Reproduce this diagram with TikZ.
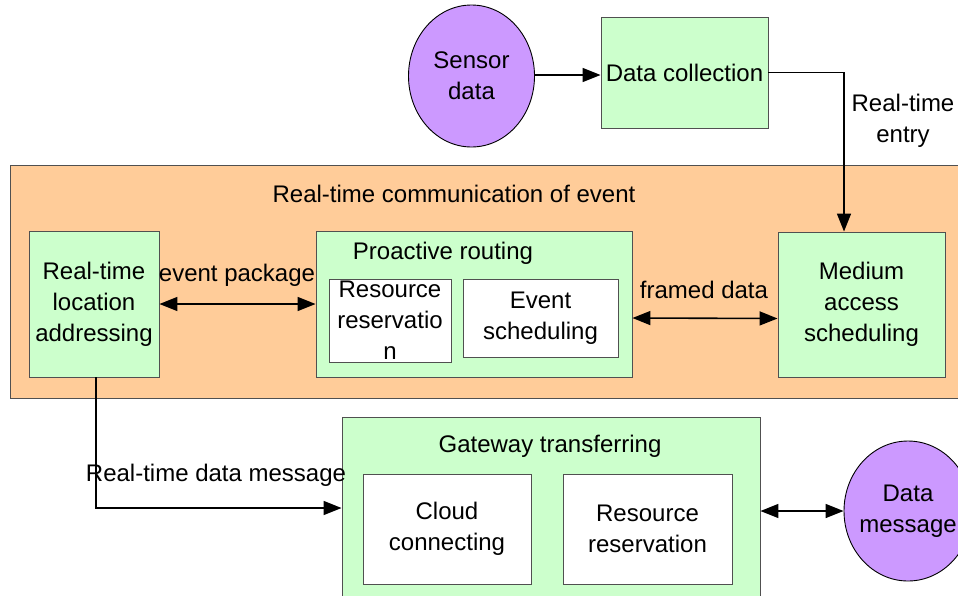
\documentclass[tikz,border=0pt]{standalone}
\usepackage{fontspec}
\setmainfont{Liberation Sans}
\usetikzlibrary{shapes.geometric,arrows.meta,calc}
\definecolor{boxgreen}{HTML}{CCFFCC}
\definecolor{boxorange}{HTML}{FFCC99}
\definecolor{boxpurple}{HTML}{CC99FF}
\definecolor{edgegray}{HTML}{505050}
\begin{document}
\begin{tikzpicture}[x=1pt,y=-1pt,
  every node/.style={font=\fontsize{24}{31}\selectfont, inner sep=0pt, align=center},
  gbox/.style={draw=edgegray, fill=boxgreen, line width=0.9pt},
  wbox/.style={draw=edgegray, fill=white, line width=0.9pt},
  obox/.style={draw=edgegray, fill=boxorange, line width=0.9pt},
  pell/.style={ellipse, draw=black, fill=boxpurple, line width=0.9pt},
  conn/.style={line width=1.6pt, -{Triangle[length=18pt,width=14pt]}},
  dconn/.style={line width=1.6pt, {Triangle[length=18pt,width=14pt]}-{Triangle[length=18pt,width=14pt]}},
  lbl/.style={font=\fontsize{24}{31}\selectfont}]
\useasboundingbox (0,0) rectangle (958,595);
\fill[white] (0,0) rectangle (958,595);
\clip (0,0) rectangle (958,595);

% top row
\node[pell, minimum width=126pt, minimum height=142pt] (sensor) at (471.5,76) {Sensor\\data};
\node[gbox, minimum width=167pt, minimum height=111pt] (dc) at (684.5,72.5) {Data collection};
\node[lbl] (rtentry) at (903,121) {Real-time\\entry};

% orange band
\node[obox, minimum width=975pt, minimum height=233pt] (band) at (497.5,281.5) {};
\node[lbl] (bandtitle) at (454,194) {Real-time communication of event};

\node[gbox, minimum width=130pt, minimum height=146pt] (rtl) at (94,304) {Real-time\\location\\addressing};
\node[gbox, minimum width=316pt, minimum height=146pt] (pr) at (474,304) {};
\node[lbl] (prtitle) at (443,253) {Proactive routing};
\node[wbox, minimum width=122pt, minimum height=83pt] (rr1) at (390,320.5) {Resource\\reservatio\\n};
\node[wbox, minimum width=155pt, minimum height=78pt] (es) at (540.5,318) {Event\\scheduling};
\node[gbox, minimum width=167pt, minimum height=145pt] (mac) at (861.5,304.5) {Medium\\access\\scheduling};

\node[lbl] (evpk) at (237,275) {event package};
\node[lbl] (frd) at (704,290) {framed data};

% gateway
\node[gbox, minimum width=418pt, minimum height=182pt] (gw) at (551,508) {};
\node[lbl] (gwtitle) at (550,446) {Gateway transferring};
\node[wbox, minimum width=168pt, minimum height=110pt] (cc) at (447,529) {Cloud\\connecting};
\node[wbox, minimum width=169pt, minimum height=110pt] (rr2) at (647.5,529) {Resource\\reservation};
\node[pell, inner xsep=-16pt, minimum width=128pt, minimum height=140pt] (dm) at (908,511) {Data\\message};
\node[lbl] (rtdm) at (216,475) {Real-time data message};

% connectors
\draw[conn] (sensor.east |- 0,75) -- (dc.west |- 0,75);
\draw[conn] (dc.east) -| ([xshift=-17.5pt]mac.north);
\draw[dconn] (rtl.east) -- (pr.west);
\draw[dconn] ([yshift=-14pt]pr.east) -- ([yshift=-14pt]mac.west);
\draw[conn] ([xshift=2pt]rtl.south) |- (gw.west);
\draw[dconn] (dm.west -| gw.east) -- (dm.west);
\end{tikzpicture}
\end{document}
